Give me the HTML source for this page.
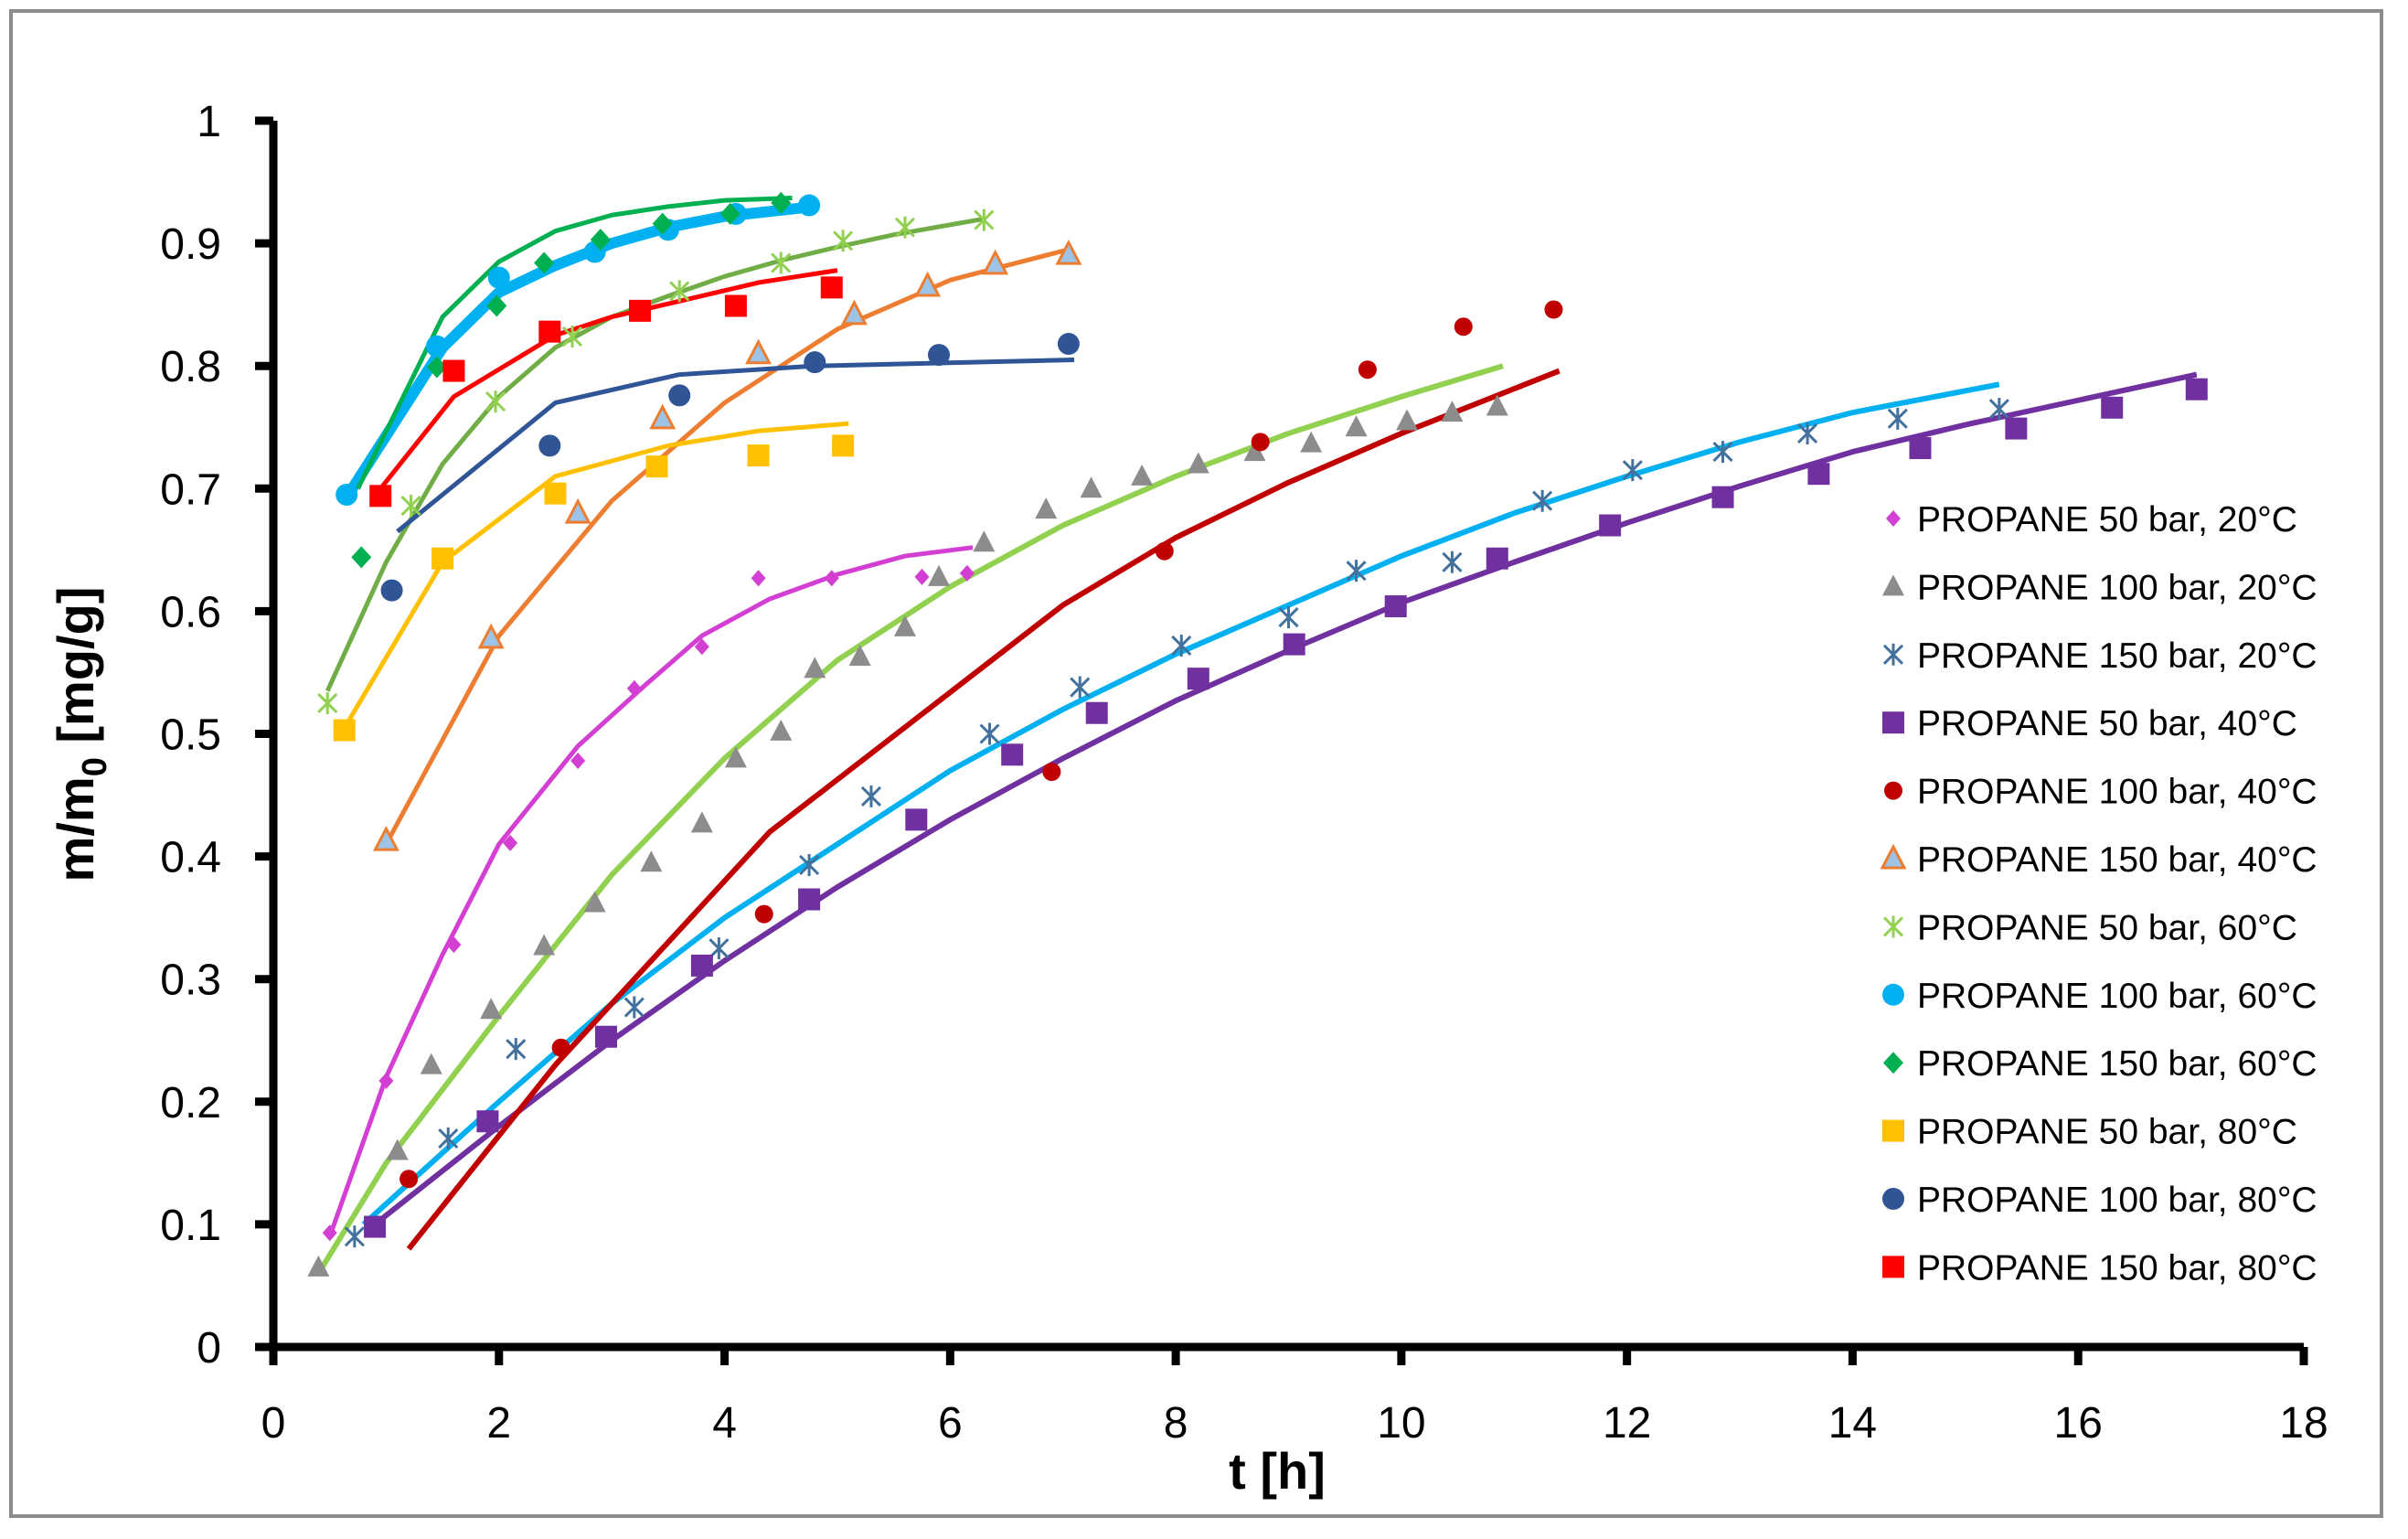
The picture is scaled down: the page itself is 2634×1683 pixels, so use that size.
<!DOCTYPE html>
<html><head><meta charset="utf-8"><style>
html,body{margin:0;padding:0;background:#fff;}
svg{display:block;font-family:"Liberation Sans",sans-serif;}
</style></head><body>
<svg id="chart" width="2634" height="1683" viewBox="0 0 2634 1683" xmlns="http://www.w3.org/2000/svg">
<rect x="12" y="12" width="2593" height="1646" fill="#fff" stroke="#8c8c8c" stroke-width="4"/>
<g id="lines"></g><g id="marks"></g><g id="axes"></g><g id="legend"></g>
<text x="1397" y="1628" font-size="56" font-weight="bold" text-anchor="middle">t [h]</text>
<text transform="translate(102,803) rotate(-90)" font-size="56" font-weight="bold" text-anchor="middle">m/m<tspan font-size="38" dy="14">0</tspan><tspan dy="-14">  [mg/g]</tspan></text>
</svg>
<script>
const xTicks=[0,2,4,6,8,10,12,14,16,18];
const yTicks=[0,0.1,0.2,0.3,0.4,0.5,0.6,0.7,0.8,0.9,1];
const yTickLabels=["0","0.1","0.2","0.3","0.4","0.5","0.6","0.7","0.8","0.9","1"];
// data points
const p1x=[0.5,1.0,1.6,2.1,2.7,3.2,3.8,4.3,4.95,5.75,6.15];
const p1y=[0.093,0.217,0.328,0.411,0.478,0.537,0.571,0.627,0.627,0.628,0.631];
const p2x=[0.4,1.1,1.4,1.93,2.4,2.85,3.35,3.8,4.1,4.5,4.8,5.2,5.6,5.9,6.3,6.85,7.25,7.7,8.2,8.7,9.2,9.6,10.05,10.45,10.85];
const p2y=[0.065,0.16,0.23,0.275,0.327,0.362,0.395,0.427,0.48,0.502,0.553,0.563,0.587,0.628,0.656,0.683,0.7,0.71,0.72,0.73,0.737,0.75,0.755,0.762,0.767];
const p3x=[0.72,1.55,2.15,3.2,3.95,4.75,5.3,6.35,7.15,8.05,9.0,9.6,10.45,11.25,12.05,12.85,13.6,14.4,15.3];
const p3y=[0.09,0.17,0.243,0.277,0.325,0.393,0.449,0.5,0.538,0.572,0.595,0.633,0.64,0.69,0.715,0.73,0.745,0.757,0.765];
const p4x=[0.9,1.9,2.95,3.8,4.75,5.7,6.55,7.3,8.2,9.05,9.95,10.85,11.85,12.85,13.7,14.6,15.45,16.3,17.05];
const p4y=[0.098,0.184,0.253,0.311,0.365,0.43,0.483,0.517,0.545,0.573,0.604,0.643,0.67,0.693,0.712,0.733,0.749,0.766,0.781];
const p5x=[1.2,2.55,4.35,6.9,7.9,8.75,9.7,10.55,11.35];
const p5y=[0.137,0.244,0.353,0.469,0.649,0.738,0.797,0.832,0.846];
const p6x=[1.0,1.93,2.7,3.45,4.3,5.15,5.8,6.4,7.05];
const p6y=[0.413,0.578,0.68,0.757,0.81,0.842,0.865,0.883,0.891];
const p7x=[0.48,1.22,1.97,2.65,3.6,4.5,5.05,5.6,6.3];
const p7y=[0.525,0.686,0.771,0.824,0.861,0.884,0.902,0.913,0.919];
const p8x=[0.65,1.45,2.0,2.85,3.5,4.1,4.75];
const p8y=[0.695,0.816,0.872,0.893,0.911,0.924,0.931];
const p9x=[0.78,1.45,1.98,2.4,2.9,3.45,4.05,4.5];
const p9y=[0.644,0.799,0.849,0.884,0.903,0.916,0.924,0.933];
const p10x=[0.63,1.5,2.5,3.4,4.3,5.05];
const p10y=[0.503,0.643,0.696,0.718,0.727,0.735];
const p11x=[1.05,2.45,3.6,4.8,5.9,7.05];
const p11y=[0.617,0.735,0.776,0.803,0.809,0.818];
const p12x=[0.95,1.6,2.45,3.25,4.1,4.95];
const p12y=[0.694,0.796,0.828,0.845,0.849,0.864];
// fitted curves
const l1x=[0.5,1,1.5,2,2.7,3.3,3.8,4.4,5,5.6,6.2];
const l1y=[0.09,0.22,0.32,0.41,0.49,0.54,0.58,0.61,0.63,0.645,0.652];
const l2x=[0.4,1,2,3,4,5,6,7,8,9,10,10.9];
const l2y=[0.06,0.15,0.27,0.385,0.48,0.56,0.62,0.67,0.71,0.745,0.775,0.8];
const l3x=[0.8,2,3,4,5,6,7,8,9,10,11,12,13,14,15.3];
const l3y=[0.1,0.2,0.28,0.35,0.41,0.47,0.52,0.565,0.605,0.645,0.68,0.71,0.738,0.762,0.785];
const l4x=[0.9,2,3,4,5,6,7,8,9,10,11,12,13,14,15,16,17.05];
const l4y=[0.1,0.18,0.25,0.315,0.375,0.43,0.48,0.527,0.568,0.607,0.64,0.672,0.702,0.73,0.752,0.772,0.793];
const l5x=[1.2,2.5,4.4,7,8,9,10,11.4];
const l5y=[0.08,0.23,0.42,0.605,0.66,0.705,0.745,0.796];
const l6x=[1,2,3,4,5,6,7.05];
const l6y=[0.41,0.58,0.69,0.77,0.83,0.87,0.895];
const l7x=[0.48,1,1.5,2,2.5,3,3.5,4,4.5,5,5.5,6.3];
const l7y=[0.535,0.64,0.72,0.775,0.815,0.84,0.857,0.873,0.886,0.897,0.907,0.92];
const l8x=[0.7,1.5,2,2.5,3,3.5,4,4.8];
const l8y=[0.7,0.815,0.86,0.882,0.9,0.913,0.922,0.93];
const l9x=[0.75,1.5,2,2.5,3,3.5,4,4.6];
const l9y=[0.7,0.84,0.885,0.91,0.923,0.93,0.935,0.937];
const l10x=[0.6,1.5,2.5,3.5,4.3,5.1];
const l10y=[0.5,0.64,0.71,0.735,0.747,0.753];
const l11x=[1.1,2.5,3.6,4.8,7.1];
const l11y=[0.665,0.77,0.793,0.8,0.805];
const l12x=[0.95,1.6,2.5,3,3.7,4.3,5.0];
const l12y=[0.7,0.775,0.825,0.84,0.855,0.868,0.878];
const legendLabels=["PROPANE 50 bar, 20°C","PROPANE 100 bar, 20°C","PROPANE 150 bar, 20°C","PROPANE 50 bar, 40°C","PROPANE 100 bar, 40°C","PROPANE 150 bar, 40°C","PROPANE 50 bar, 60°C","PROPANE 100 bar, 60°C","PROPANE 150 bar, 60°C","PROPANE 50 bar, 80°C","PROPANE 100 bar, 80°C","PROPANE 150 bar, 80°C"];

const X0=299,X1=2520,Y0=1473,Y1=132;
const sx=v=>X0+(v-0)/18*(X1-X0);
const sy=v=>Y0-(v-0)/1*(Y0-Y1);
const NS="http://www.w3.org/2000/svg";
function mk(tag,parent){const e=document.createElementNS(NS,tag);parent.appendChild(e);return e;}
const gL=document.getElementById('lines'),gM=document.getElementById('marks'),gA=document.getElementById('axes'),gG=document.getElementById('legend');

const lines=[[l2x,l2y,'#92d050',6],[l3x,l3y,'#00b0f0',6],[l4x,l4y,'#7030a0',6],[l5x,l5y,'#c00000',6],[l1x,l1y,'#d23fd2',5],[l6x,l6y,'#ed7d31',5],[l7x,l7y,'#70ad47',5],[l11x,l11y,'#2f5597',5],[l10x,l10y,'#ffc000',5],[l12x,l12y,'#ff0000',5],[l8x,l8y,'#00b0f0',12],[l9x,l9y,'#00b050',5]];
lines.forEach((s,i)=>{
  const p=mk('polyline',gL);
  
  
  p.setAttribute('points',s[0].map((x,j)=>sx(x)+','+sy(s[1][j])).join(' '));
  p.setAttribute('fill','none');p.setAttribute('stroke',s[2]);p.setAttribute('stroke-width',s[3]);p.setAttribute('stroke-linejoin','round');
});

function marker(parent,type,cx,cy){
  let e;
  if(type==='diamond'){e=mk('polygon',parent);e.setAttribute('points',`${cx},${cy-9} ${cx+8},${cy} ${cx},${cy+9} ${cx-8},${cy}`);e.setAttribute('fill','#d23fd2');}
  else if(type==='tri'){e=mk('polygon',parent);e.setAttribute('points',`${cx},${cy-13} ${cx+12},${cy+10} ${cx-12},${cy+10}`);e.setAttribute('fill','#8c8c8c');}
  else if(type==='tri2'){e=mk('polygon',parent);e.setAttribute('points',`${cx},${cy-13} ${cx+12},${cy+10} ${cx-12},${cy+10}`);e.setAttribute('fill','#9dc3e6');e.setAttribute('stroke','#ed7d31');e.setAttribute('stroke-width','3');}
  else if(type==='star'||type==='star2'){e=mk('path',parent);const r=10,c=type==='star'?'#41719c':'#92d050';e.setAttribute('d',`M${cx-r},${cy-r}L${cx+r},${cy+r}M${cx-r},${cy+r}L${cx+r},${cy-r}M${cx},${cy-r-2}L${cx},${cy+r+2}`);e.setAttribute('stroke',c);e.setAttribute('stroke-width','3');}
  else if(type.startsWith('sq')){const c={sq1:'#7030a0',sq2:'#ffc000',sq3:'#ff0000'}[type];e=mk('rect',parent);e.setAttribute('x',cx-12);e.setAttribute('y',cy-12);e.setAttribute('width',24);e.setAttribute('height',24);e.setAttribute('fill',c);}
  else {const c={c1:'#c00000',c2:'#00b0f0',c3:'#2f5597'}[type];e=mk('circle',parent);e.setAttribute('cx',cx);e.setAttribute('cy',cy);e.setAttribute('r',type==='c1'?10:12);e.setAttribute('fill',c);}
  return e;
}
function marker2(parent,type,cx,cy){
  if(type==='gdiamond'){const e=mk('polygon',parent);e.setAttribute('points',`${cx},${cy-12} ${cx+11},${cy} ${cx},${cy+12} ${cx-11},${cy}`);e.setAttribute('fill','#00b050');return e;}
  return marker(parent,type,cx,cy);
}
const series=[[p1x,p1y,'diamond'],[p2x,p2y,'tri'],[p3x,p3y,'star'],[p4x,p4y,'sq1'],[p5x,p5y,'c1'],[p6x,p6y,'tri2'],[p7x,p7y,'star2'],[p8x,p8y,'c2'],[p9x,p9y,'gdiamond'],[p10x,p10y,'sq2'],[p11x,p11y,'c3'],[p12x,p12y,'sq3']];
series.forEach((s,i)=>{
  const g=mk('g',gM);
  
  
  s[0].forEach((x,j)=>{
    const e=marker2(g,s[2],sx(x),sy(s[1][j]));
    
    
  });
  const ly=567+i*74.4;
  const lm=marker2(gG,s[2],2071,ly);
  
  
  const t=mk('text',gG);
  
  
  t.setAttribute('x',2097);t.setAttribute('y',ly+14);t.setAttribute('font-size','39');t.textContent=legendLabels[i];
});

// axes
const ax=mk('path',gA);


let d=`M${X0},${Y1}L${X0},${Y0}L${X1},${Y0}`;
yTicks.forEach(v=>{d+=`M${X0-20},${sy(v)}L${X0},${sy(v)}`;});
xTicks.forEach(v=>{d+=`M${sx(v)},${Y0}L${sx(v)},${Y0+20}`;});
ax.setAttribute('d',d);ax.setAttribute('stroke','#000');ax.setAttribute('stroke-width','9');ax.setAttribute('fill','none');
yTicks.forEach((v,i)=>{
  const t=mk('text',gA);
  
  
  t.setAttribute('x',242);t.setAttribute('y',sy(v)+17);t.setAttribute('font-size','48');t.setAttribute('text-anchor','end');t.textContent=yTickLabels[i];
});
xTicks.forEach(v=>{
  const t=mk('text',gA);
  
  
  t.setAttribute('x',sx(v));t.setAttribute('y',1572);t.setAttribute('font-size','48');t.setAttribute('text-anchor','middle');t.textContent=String(v);
});
</script>
</body></html>
